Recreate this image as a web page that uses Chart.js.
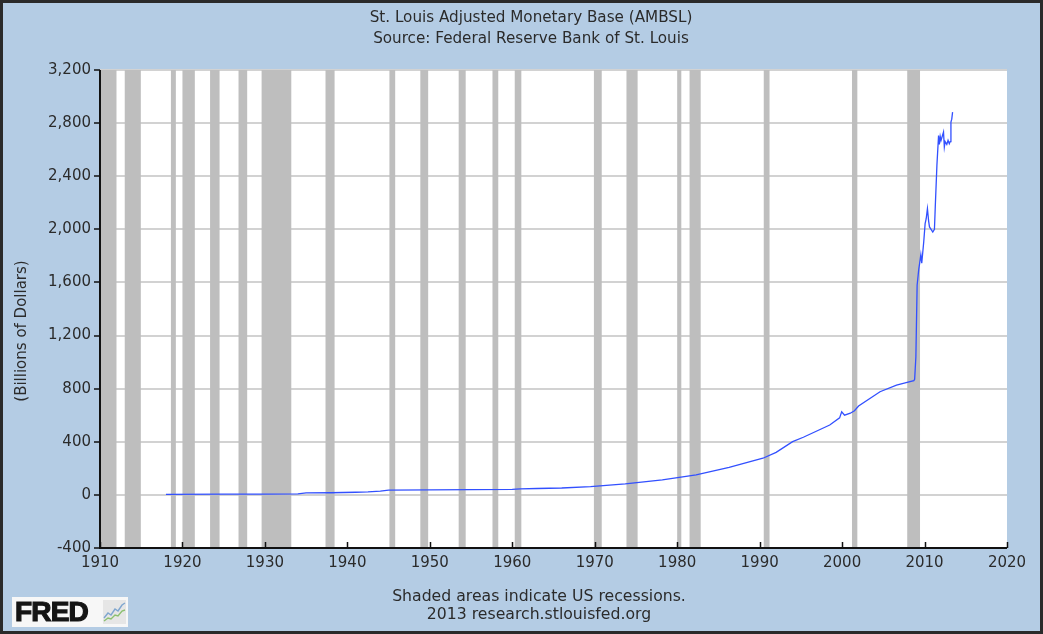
<!DOCTYPE html>
<html>
<head>
<meta charset="utf-8">
<script src="https://cdn.jsdelivr.net/npm/chart.js@4.4.1/dist/chart.umd.min.js"></script>
<style>
  html, body { margin: 0; padding: 0; background: #b4cce4; }
  #wrap { position: relative; width: 1043px; height: 634px; }
  canvas { display: block; background: #b4cce4; }
  #fred { position: absolute; left: 12px; top: 597px; width: 116px; height: 30px; background: #f7f7f7;
          font-family: "Liberation Sans", Arial, sans-serif; font-weight: bold; font-size: 28px; line-height: 30px;
          color: #151515; letter-spacing: -0.8px; -webkit-text-stroke: 1.2px #151515; }
  #fred span { position: absolute; left: 3px; top: 0; }
  #fred svg { position: absolute; left: 91px; top: 3px; }
</style>
</head>
<body>
<div id="wrap">
  <canvas id="c" width="1043" height="634"></canvas>
  <div id="fred"><span>FRED</span>
    <svg width="23" height="24" viewBox="0 0 23 24">
      <rect x="0" y="0" width="23" height="24" fill="#e6e6e6"/>
      <polyline points="1,18 5,13 8,15 12,9 15,11 19,5 22,3" fill="none" stroke="#7fa6cf" stroke-width="1.4"/>
      <polyline points="1,21 5,18 8,19 12,15 15,16 19,11 22,10" fill="none" stroke="#8cc070" stroke-width="1.4"/>
    </svg>
  </div>
</div>
<script>
// ---- Data ----
const chartTitle = ['St. Louis Adjusted Monetary Base (AMBSL)', 'Source: Federal Reserve Bank of St. Louis'];
const yAxisTitle = '(Billions of Dollars)';
const footerLines = ['Shaded areas indicate US recessions.', '2013 research.stlouisfed.org'];

const years = [1918, 1925, 1930, 1934, 1935, 1938, 1941, 1942.5, 1944, 1945, 1950, 1955, 1960, 1961, 1963, 1966,
  1969.5, 1973.7, 1978.2, 1982.3, 1986.3, 1990.4, 1992, 1994, 1995.3, 1998.5, 1999.7, 1999.95, 2000.3, 2001.0,
  2001.5, 2002, 2004.6, 2006.6, 2008.0, 2008.7, 2008.8, 2008.95, 2009.1, 2009.3, 2009.4, 2009.55, 2009.66, 2009.9,
  2010.07, 2010.2, 2010.35, 2010.5, 2010.6, 2011.0, 2011.2, 2011.3, 2011.5, 2011.7, 2011.8, 2011.9, 2012.0,
  2012.3, 2012.4, 2012.5, 2012.7, 2012.85, 2013.0, 2013.1, 2013.2, 2013.3, 2013.4];
const baseValues = [4, 6, 6, 8, 15, 16, 20, 22, 28, 36, 38, 40, 42, 46, 48, 52,
  62, 83, 113, 150, 208, 276, 320, 401, 434, 526, 580, 626, 600, 615,
  634, 669, 777, 827, 850, 860, 870, 1040, 1579, 1700, 1742, 1810, 1745, 1905,
  2043, 2080, 2156, 2060, 2018, 1980, 2000, 2168, 2482, 2707, 2640, 2700, 2670,
  2733, 2620, 2660, 2640, 2670, 2645, 2660, 2808, 2830, 2883];

const recessionStart = [1910.0, 1913.0, 1918.6, 1920.0, 1923.35, 1926.8, 1929.6, 1937.35, 1945.1, 1948.85,
  1953.5, 1957.6, 1960.3, 1969.9, 1973.85, 1980.0, 1981.5, 1990.5, 2001.2, 2007.9];
const recessionEnd = [1912.0, 1914.95, 1919.2, 1921.5, 1924.5, 1927.85, 1933.2, 1938.45, 1945.8, 1949.8,
  1954.35, 1958.3, 1961.1, 1970.85, 1975.2, 1980.5, 1982.85, 1991.2, 2001.85, 2009.45];

const xMin = 1910, xMax = 2020, xStep = 10;
const yMin = -400, yMax = 3200, yStep = 400;

// ---- Plugins ----
const FONT = '"DejaVu Sans", Verdana, sans-serif';
const TEXT = '#2b2b2b';
const FS = 15;

const decor = {
  id: 'decor',
  afterLayout(chart) {
    // centre the header and footer text blocks where the original places them
    const tb = chart.titleBlock;
    if (tb) { tb.left = 531 - 500; tb.right = 531 + 500; }
    const sb = chart.boxes.find(b => b !== tb && !b.axis && b.options && b.options.position === 'bottom');
    if (sb) { sb.left = 539 - 500; sb.right = 539 + 500; }
  },
  beforeDraw(chart) {
    const {ctx, chartArea: a} = chart;
    ctx.save();
    ctx.fillStyle = '#ffffff';
    ctx.fillRect(a.left, a.top, a.right - a.left, a.bottom - a.top);
    ctx.restore();
  },
  beforeDatasetsDraw(chart) {
    const {ctx, chartArea: a, scales: {x}} = chart;
    ctx.save();
    ctx.fillStyle = '#bebebe';
    recessionStart.forEach((s, i) => {
      const x0 = Math.max(x.getPixelForValue(s), a.left);
      const x1 = Math.min(x.getPixelForValue(recessionEnd[i]), a.right);
      ctx.fillRect(x0, a.top, x1 - x0, a.bottom - a.top);
    });
    ctx.restore();
  },
  afterDatasetsDraw(chart) {
    const {ctx, chartArea: a, scales: {x}} = chart;
    ctx.save();
    ctx.strokeStyle = '#111111';
    ctx.lineWidth = 2;
    ctx.beginPath();
    ctx.moveTo(a.left, a.top);
    ctx.lineTo(a.left, a.bottom);
    ctx.lineTo(a.right, a.bottom);
    ctx.stroke();
    ctx.lineWidth = 1.5;
    ctx.beginPath();
    x.ticks.forEach(t => {
      const px = Math.round(x.getPixelForValue(t.value)) + 0.5;
      ctx.moveTo(px, a.bottom);
      ctx.lineTo(px, a.bottom - 6);
    });
    ctx.stroke();
    ctx.restore();
  },
  afterDraw(chart) {
    const {ctx, width, height} = chart;
    ctx.save();
    // y-axis title
    ctx.fillStyle = TEXT;
    ctx.font = FS + 'px ' + FONT;
    ctx.textAlign = 'center';
    ctx.textBaseline = 'middle';
    ctx.translate(22, 331);
    ctx.rotate(-Math.PI / 2);
    ctx.fillText(yAxisTitle, 0, 0);
    ctx.restore();
    // frame around the whole picture
    ctx.save();
    ctx.strokeStyle = '#2a2a2a';
    ctx.lineWidth = 3;
    ctx.strokeRect(1.5, 1.5, width - 3, height - 3);
    ctx.restore();
  }
};

new Chart(document.getElementById('c'), {
  type: 'line',
  data: {
    datasets: [{
      data: years.map((yr, i) => ({x: yr, y: baseValues[i]})),
      borderColor: 'rgb(50, 80, 255)',
      borderWidth: 1.3,
      pointRadius: 0,
      tension: 0,
      fill: false
    }]
  },
  options: {
    responsive: false,
    animation: false,
    devicePixelRatio: 1,
    layout: {padding: {top: 0, right: 36, bottom: 0, left: 0}},
    plugins: {
      legend: {display: false},
      tooltip: {enabled: false},
      title: {
        display: true,
        text: chartTitle,
        color: TEXT,
        font: {family: FONT, size: 15.2, weight: 'normal', lineHeight: '21px'},
        padding: {top: 8, bottom: 20}
      },
      subtitle: {
        display: true,
        position: 'bottom',
        text: footerLines,
        color: TEXT,
        font: {family: FONT, size: 15.7, weight: 'normal', lineHeight: '18px'},
        padding: {top: 0, bottom: 10}
      }
    },
    scales: {
      x: {
        type: 'linear',
        min: xMin, max: xMax,
        grid: {display: false, drawTicks: false},
        border: {display: false},
        ticks: {
          stepSize: xStep,
          padding: 6,
          color: TEXT,
          font: {family: FONT, size: FS},
          maxRotation: 0,
          callback: v => String(v)
        },
        afterFit(scale) { scale.height = 40; }
      },
      y: {
        type: 'linear',
        min: yMin, max: yMax,
        grid: {color: '#d2d2d2', lineWidth: 2, tickColor: '#111111', tickWidth: 1.5, tickLength: 6},
        border: {display: false},
        ticks: {
          stepSize: yStep,
          padding: 3,
          color: TEXT,
          font: {family: FONT, size: FS}
        },
        afterFit(scale) { scale.width = 100; }
      }
    }
  },
  plugins: [decor]
});
</script>
</body>
</html>
